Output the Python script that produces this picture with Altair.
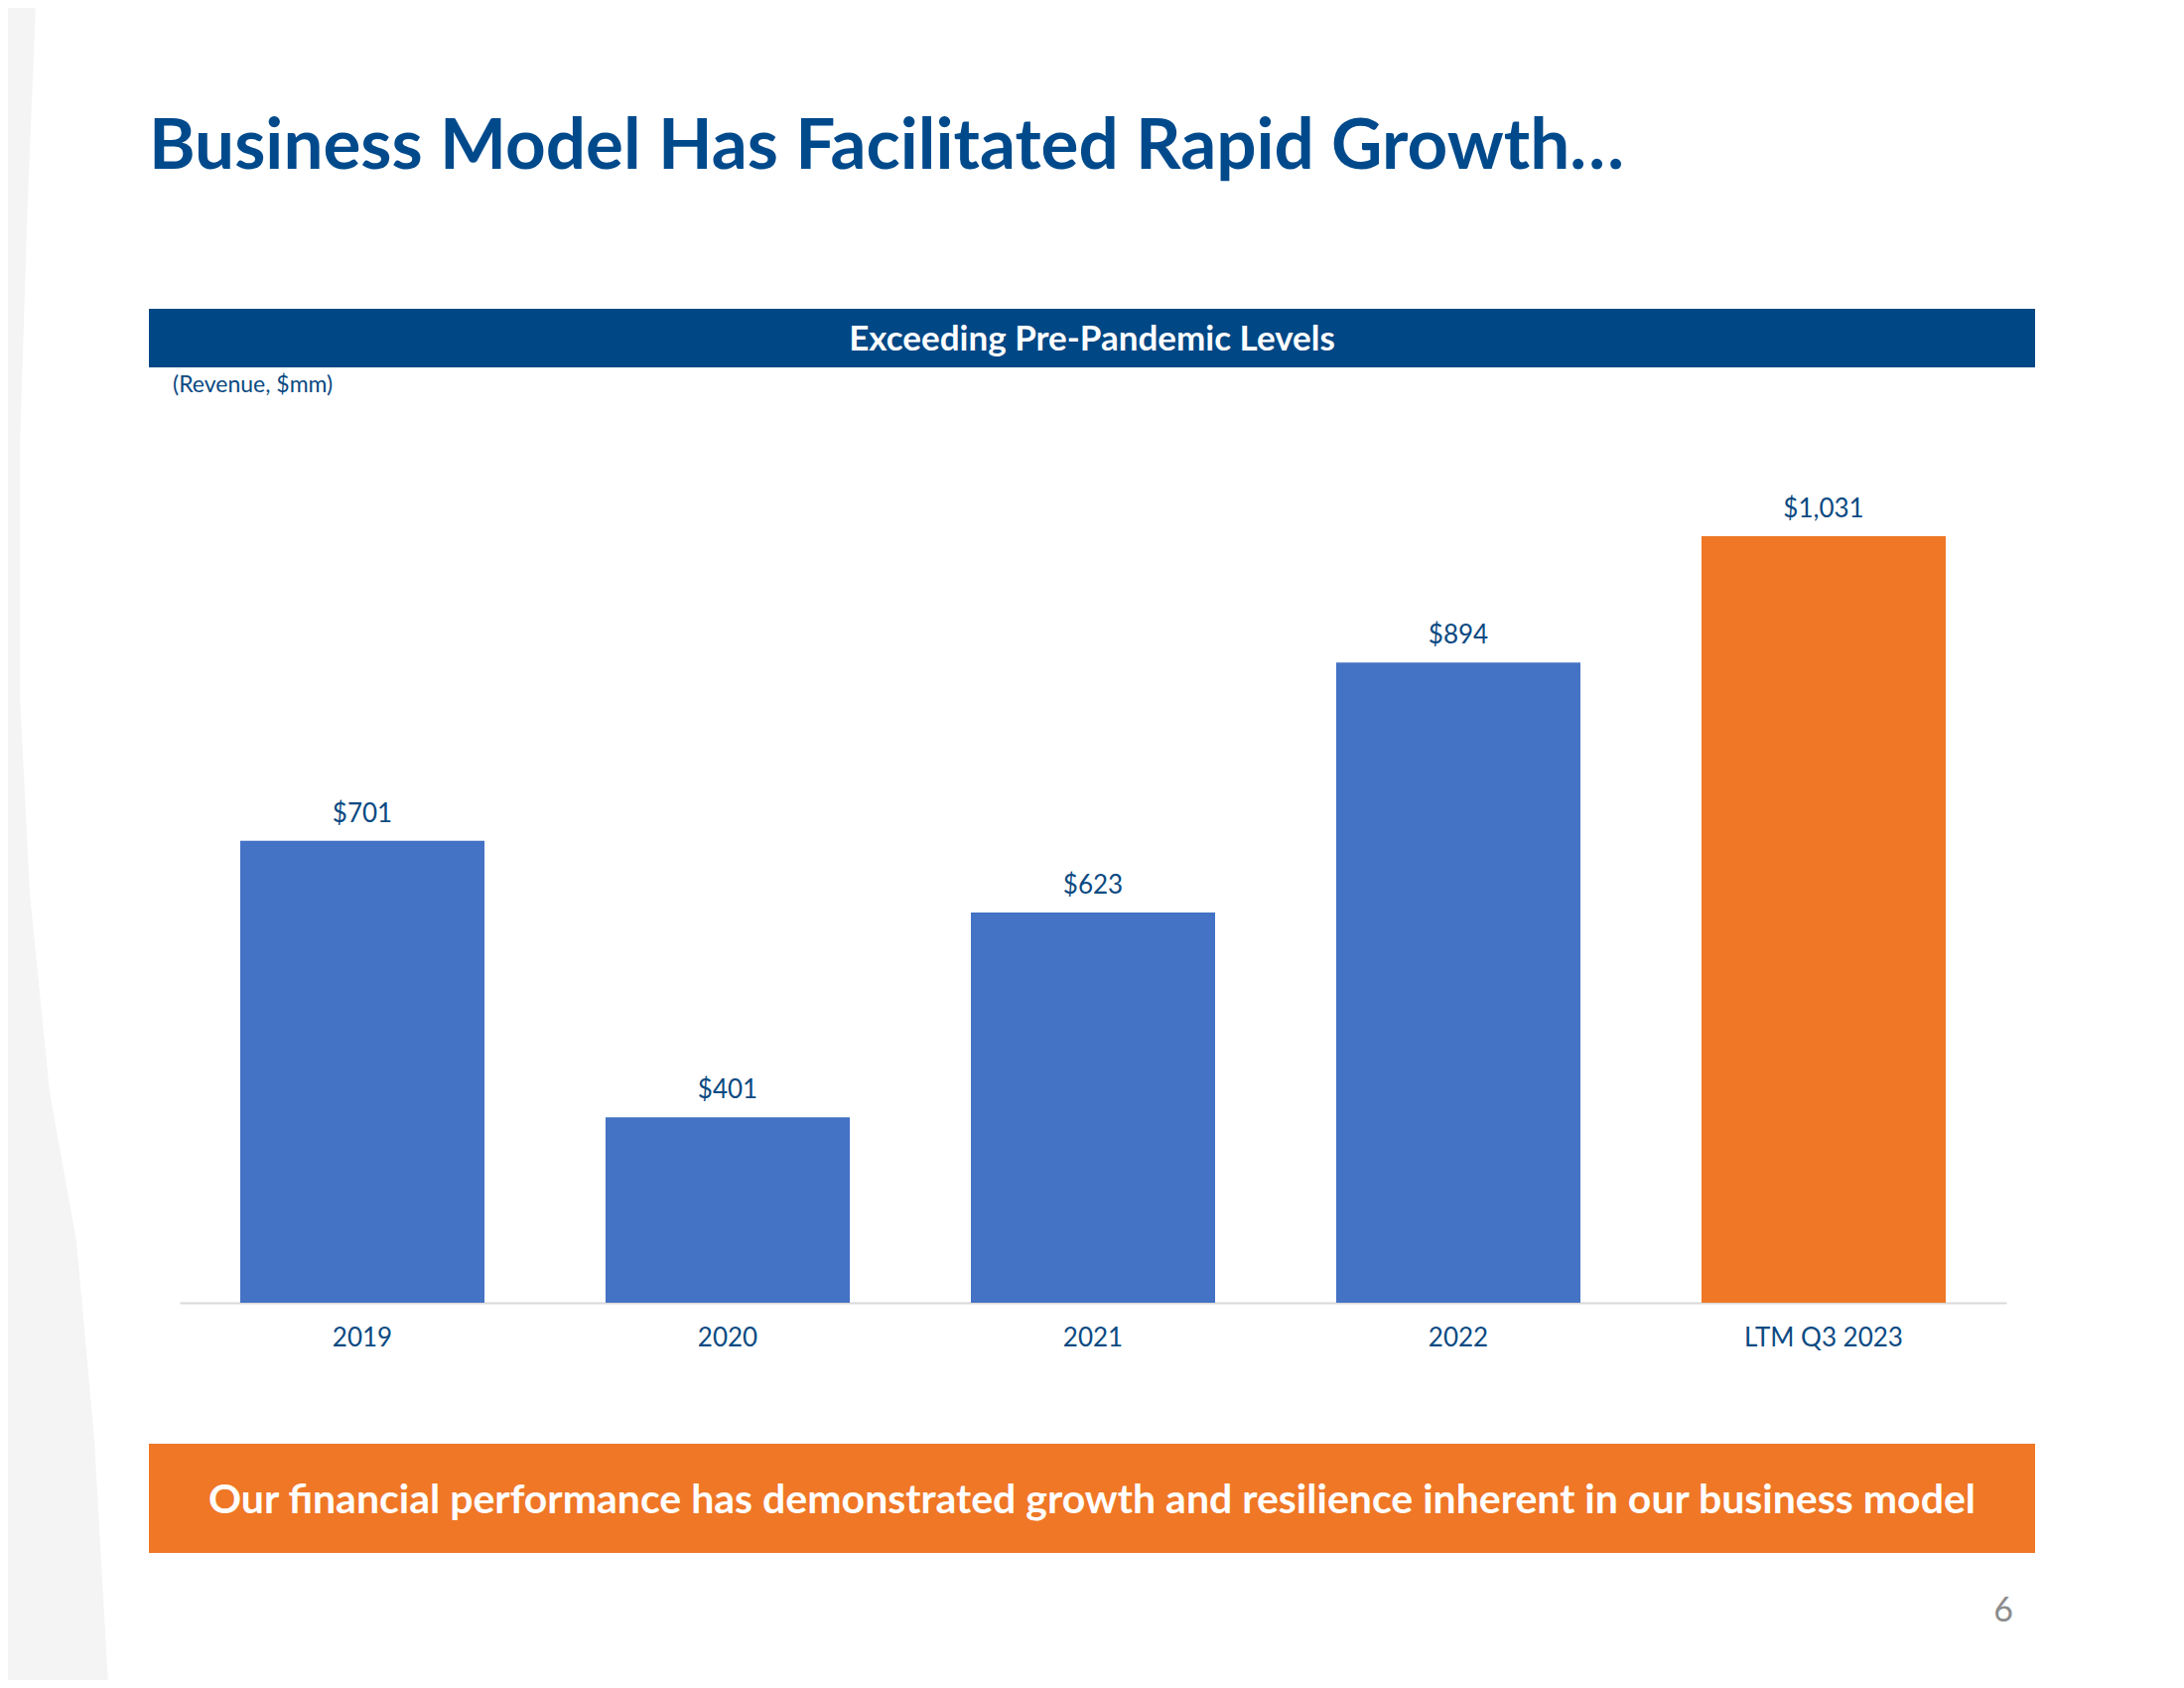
import altair as alt
import pandas as pd

# ---- data ----
categories = ["2019", "2020", "2021", "2022", "LTM Q3 2023"]
revenue = [701, 401, 623, 894, 1031]
bar_colors = ["#4472C4", "#4472C4", "#4472C4", "#4472C4", "#EF7726"]
value_labels = ["$701", "$401", "$623", "$894", "$1,031"]

title_text = "Business Model Has Facilitated Rapid Growth\u2026"
banner_text = "Exceeding Pre-Pandemic Levels"
unit_text = "(Revenue, $mm)"
footer_text = ("Our financial performance has demonstrated growth and "
               "resilience inherent in our business model")
page_number = "6"

# decorative light-grey ribbon along the left page edge (plot-pixel space)
ribbon_y = [-470, -276, -26, 224, 424, 624, 774, 974, 1220]
ribbon_x = [-145, -153, -161, -161, -151, -131, -104, -86, -72]
ribbon_left = [-200] * len(ribbon_y)

df = pd.DataFrame({"category": categories, "revenue": revenue,
                   "color": bar_colors, "label": value_labels})
one = pd.DataFrame({"k": [0]})
ribbon = pd.DataFrame({"ry": ribbon_y, "rx": ribbon_x, "rl": ribbon_left})

W, H = 1840, 836
PAD = {"left": 173, "top": 468, "right": 171, "bottom": 380}

BLUE_TXT = "#0B4A82"
TITLE_BLUE = "#004A8C"
BANNER_BLUE = "#004785"
ORANGE = "#EF7726"
FONT = "Lato"

x_axis = alt.Axis(title=None, labelAngle=0, ticks=False, tickSize=0,
                  domainColor="#D9D9D9", domainWidth=2, labelFont=FONT,
                  labelFontSize=26, labelColor=BLUE_TXT, labelPadding=22,
                  grid=False)
x_scale = alt.Scale(paddingInner=0.3315, paddingOuter=0.1658)
y_scale = alt.Scale(domain=[200, 1100], zero=False)

ribbon_layer = alt.Chart(ribbon).mark_area(orient="horizontal", color="#F4F4F4").encode(
    y=alt.Y("ry:Q", scale=None, axis=None),
    x=alt.X("rx:Q", scale=None, axis=None),
    x2=alt.X2("rl:Q"),
)

title_layer = alt.Chart(one).mark_text(
    text=title_text, font=FONT, fontWeight="bold", fontSize=71,
    color=TITLE_BLUE, align="left", baseline="alphabetic"
).encode(x=alt.value(-31), y=alt.value(-306))

banner_rect = alt.Chart(one).mark_rect(color=BANNER_BLUE).encode(
    x=alt.value(-31), x2=alt.value(1869), y=alt.value(-165), y2=alt.value(-106))
banner_txt = alt.Chart(one).mark_text(
    text=banner_text, font=FONT, fontWeight="bold", fontSize=35,
    color="white", align="center", baseline="alphabetic"
).encode(x=alt.value(919), y=alt.value(-123))

unit_layer = alt.Chart(one).mark_text(
    text=unit_text, font=FONT, fontSize=23, color=BLUE_TXT,
    align="left", baseline="alphabetic"
).encode(x=alt.value(-7), y=alt.value(-81))

footer_rect = alt.Chart(one).mark_rect(color=ORANGE).encode(
    x=alt.value(-31), x2=alt.value(1869), y=alt.value(978), y2=alt.value(1088))
footer_txt = alt.Chart(one).mark_text(
    text=footer_text, font=FONT, fontWeight="bold", fontSize=41,
    color="white", align="center", baseline="alphabetic"
).encode(x=alt.value(919), y=alt.value(1048))

page_layer = alt.Chart(one).mark_text(
    text=page_number, font=FONT, fontSize=34, color="#8C8C8C",
    align="right", baseline="alphabetic"
).encode(x=alt.value(1847), y=alt.value(1157))

bars = alt.Chart(df).mark_bar().encode(
    x=alt.X("category:N", sort=categories, scale=x_scale, axis=x_axis),
    y=alt.Y("revenue:Q", scale=y_scale, axis=None),
    y2=alt.datum(200),
    color=alt.Color("color:N", scale=None),
)

labels = alt.Chart(df).mark_text(
    font=FONT, fontSize=26, color=BLUE_TXT, baseline="alphabetic",
    align="center", dy=-19
).encode(
    x=alt.X("category:N", sort=categories),
    y=alt.Y("revenue:Q"),
    text="label:N",
)

chart = alt.layer(
    ribbon_layer, title_layer, banner_rect, banner_txt, unit_layer,
    footer_rect, footer_txt, page_layer, bars, labels
).properties(
    width=W, height=H, padding=PAD,
    autosize=alt.AutoSizeParams(type="none"),
    background="white",
).configure_view(stroke=None)

chart.save("out.html", embed_options={"renderer": "svg", "actions": False})
